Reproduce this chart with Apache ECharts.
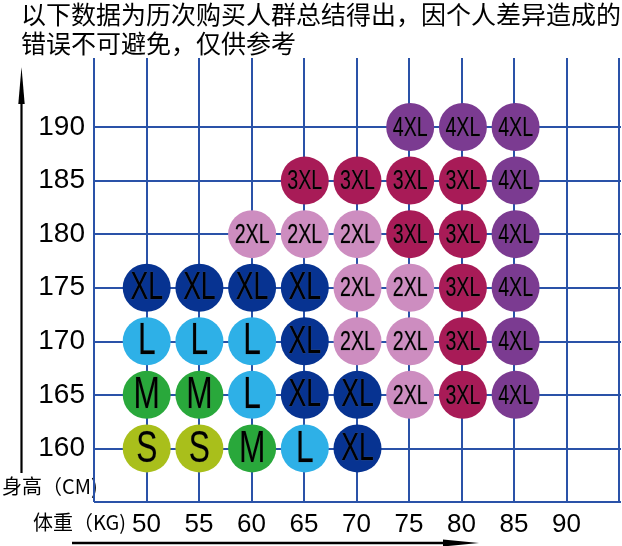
<!DOCTYPE html>
<html>
<head>
<meta charset="utf-8">
<script src="https://cdn.jsdelivr.net/npm/echarts@6/dist/echarts.min.js"></script>
<style>
html,body{margin:0;padding:0;background:#fff;}
#main{width:622px;height:546px;}
</style>
</head>
<body>
<div id="main"></div>
<script>
// ---- data ----
const titleLines = ['以下数据为历次购买人群总结得出，因个人差异造成的', '错误不可避免，仅供参考'];
const yName = '身高（CM)';
const xName = '体重（KG)';
const weights = [50, 55, 60, 65, 70, 75, 80, 85];
const heights = [190, 185, 180, 175, 170, 165, 160];
const sizes190 = ['', '', '', '', '', '4XL', '4XL', '4XL'];
const sizes185 = ['', '', '', '3XL', '3XL', '3XL', '3XL', '4XL'];
const sizes180 = ['', '', '2XL', '2XL', '2XL', '3XL', '3XL', '4XL'];
const sizes175 = ['XL', 'XL', 'XL', 'XL', '2XL', '2XL', '3XL', '4XL'];
const sizes170 = ['L', 'L', 'L', 'XL', '2XL', '2XL', '3XL', '4XL'];
const sizes165 = ['M', 'M', 'L', 'XL', 'XL', '2XL', '3XL', '4XL'];
const sizes160 = ['S', 'S', 'M', 'L', 'XL', '', '', ''];
const xTicks = [50, 55, 60, 65, 70, 75, 80, 85, 90];
const yTicks = [160, 165, 170, 175, 180, 185, 190];
const sizeColors = {
  'S': '#a9bf1b', 'M': '#29a83b', 'L': '#2eb0e7', 'XL': '#073391',
  '2XL': '#cd8dc0', '3XL': '#a81b57', '4XL': '#7b3b91'
};

// ---- build points ----
const rows = [sizes190, sizes185, sizes180, sizes175, sizes170, sizes165, sizes160];
const points = [];
rows.forEach((row, ri) => {
  row.forEach((s, ci) => {
    if (s) points.push([weights[ci], heights[ri], s]);
  });
});

const gridColor = '#2a52a8';
const latin = '"Liberation Sans", Arial, sans-serif';
const cjk = '"Noto Sans CJK SC", sans-serif';

const chart = echarts.init(document.getElementById('main'));
chart.setOption({
  animation: false,
  backgroundColor: '#fff',
  title: {
    text: titleLines.join('\n'),
    left: 21, top: 0, padding: 0,
    textStyle: { fontFamily: cjk, fontSize: 25, fontWeight: 'normal', color: '#000', lineHeight: 29 }
  },
  grid: [
    { left: 94, right: 1, top: 58, bottom: 44 },
    { left: 94, right: 1, top: 127, bottom: 44 }
  ],
  xAxis: [
    {
      gridIndex: 0, type: 'value', min: 45, max: 95, interval: 5,
      axisLine: { show: false }, axisTick: { show: false },
      splitLine: { show: true, lineStyle: { color: gridColor, width: 2 } },
      axisLabel: {
        margin: 10, color: '#000', fontFamily: latin, fontSize: 26,
        formatter: v => xTicks.indexOf(v) >= 0 ? String(v) : ''
      }
    },
    { gridIndex: 1, type: 'value', min: 45, max: 95, interval: 5, show: false }
  ],
  yAxis: [
    { gridIndex: 0, type: 'value', min: 155, max: 196.44, show: false },
    {
      gridIndex: 1, type: 'value', min: 155, max: 190, interval: 5,
      axisLine: { show: false }, axisTick: { show: false },
      splitLine: { show: true, lineStyle: { color: gridColor, width: 2 } },
      axisLabel: {
        margin: 9, color: '#000', fontFamily: latin, fontSize: 28,
        formatter: v => yTicks.indexOf(v) >= 0 ? String(v) : ''
      }
    }
  ],
  series: [{
    type: 'custom',
    xAxisIndex: 1, yAxisIndex: 1,
    clip: false,
    data: points.map(p => [p[0], p[1]]),
    renderItem: function (params, api) {
      const p = points[params.dataIndex];
      const c = api.coord([api.value(0), api.value(1)]);
      const label = p[2];
      const fs = label.length === 1 ? 44 : (label.length === 2 ? 38 : 28);
      const sx = label.length === 1 ? 0.72 : 0.7;
      return {
        type: 'group',
        children: [
          { type: 'circle', shape: { cx: c[0], cy: c[1], r: 24 }, style: { fill: sizeColors[label] } },
          {
            type: 'text', x: c[0], y: c[1] + 1, scaleX: sx,
            style: {
              text: label, x: 0, y: 0, align: 'center', verticalAlign: 'middle',
              fontFamily: latin, fontSize: fs, fill: '#000',
              stroke: 'rgba(90,90,90,0.6)', lineWidth: 0.6
            }
          }
        ]
      };
    }
  }],
  graphic: [
    { type: 'line', shape: { x1: 21.5, y1: 98, x2: 21.5, y2: 473 }, style: { stroke: '#000', lineWidth: 2.2 } },
    { type: 'polygon', shape: { points: [[21.5, 67], [18.3, 104], [24.7, 104]] }, style: { fill: '#000' } },
    { type: 'line', shape: { x1: 72, y1: 543, x2: 450, y2: 543 }, style: { stroke: '#000', lineWidth: 2.5 } },
    { type: 'polygon', shape: { points: [[479, 543], [443, 539.5], [443, 546.5]] }, style: { fill: '#000' } },
    {
      type: 'text', x: 2, y: 486,
      style: { text: yName, fontFamily: cjk, fontSize: 20, fill: '#000', verticalAlign: 'middle', align: 'left' }
    },
    {
      type: 'text', x: 33, y: 522,
      style: { text: xName, fontFamily: cjk, fontSize: 20, fill: '#000', verticalAlign: 'middle', align: 'left' }
    }
  ]
});
</script>
</body>
</html>
